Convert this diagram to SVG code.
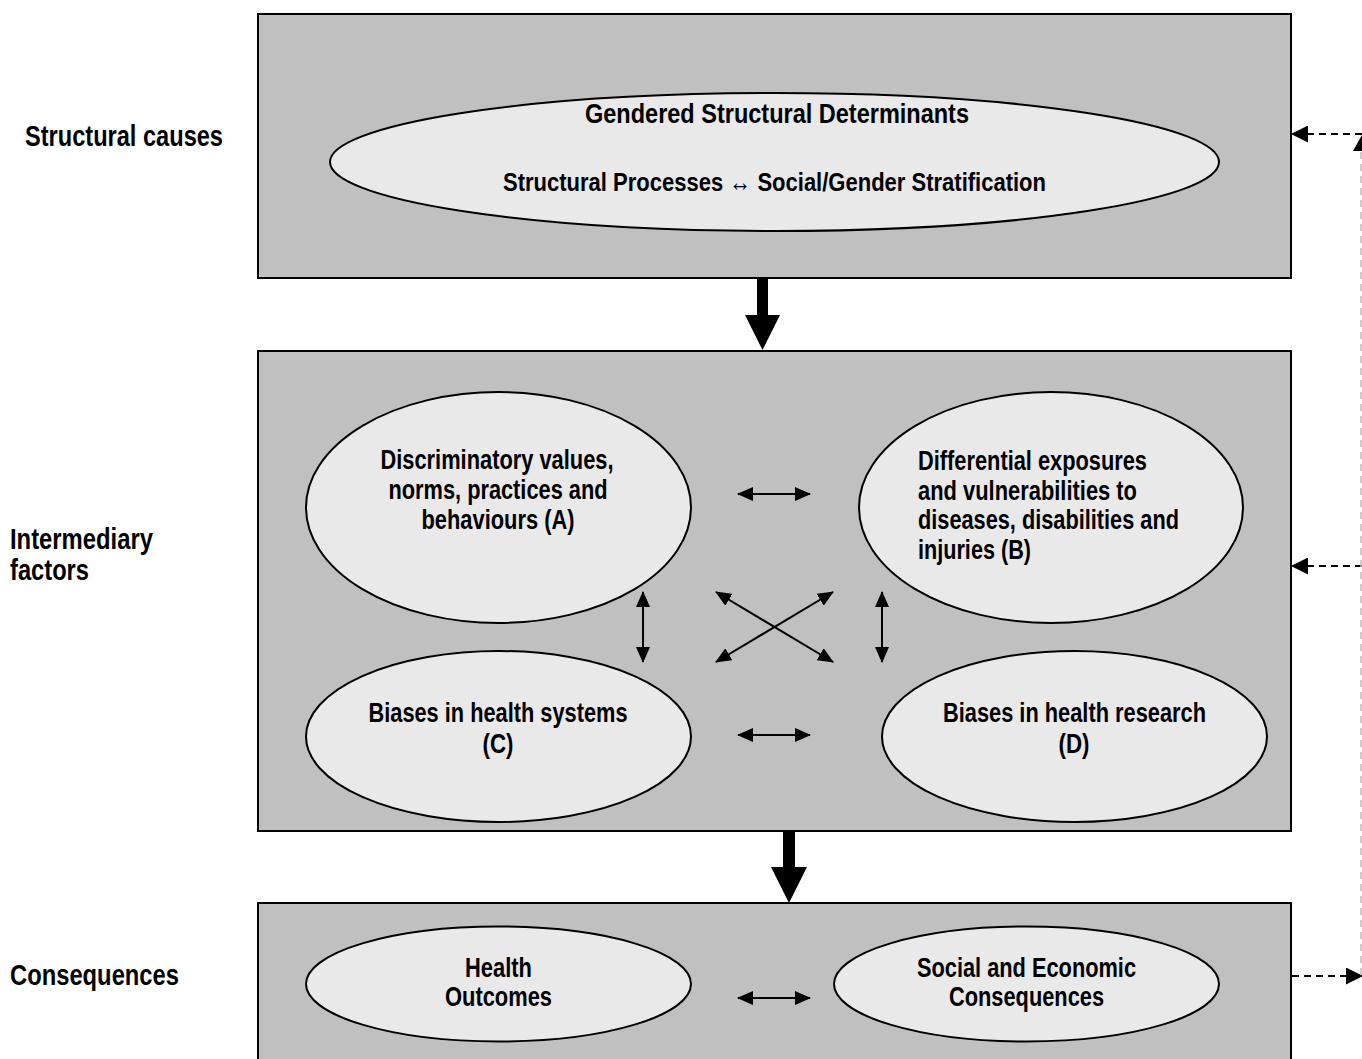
<svg xmlns="http://www.w3.org/2000/svg" width="1362" height="1059" viewBox="0 0 1362 1059">
<style>
.box{fill:#c0c0c0;stroke:#000;stroke-width:2}
.ell{fill:#e9e9e9;stroke:#000;stroke-width:2}
text{font-family:"Liberation Sans",Arial,sans-serif;font-weight:bold;fill:#000}
.lbl{font-size:29px}
.t{font-size:27px}
.c{text-anchor:middle}
.dbl{stroke:#000;stroke-width:2;fill:none;marker-start:url(#ah);marker-end:url(#ah)}
.dash{stroke:#000;stroke-width:2;fill:none;stroke-dasharray:7 5}
</style>
<defs>
<marker id="ah" markerUnits="userSpaceOnUse" markerWidth="16" markerHeight="14" refX="15" refY="7" orient="auto-start-reverse" viewBox="0 0 16 14">
<path d="M0,0 L16,7 L0,14 Z" fill="#000"/>
</marker>
<marker id="dh" markerUnits="userSpaceOnUse" markerWidth="17" markerHeight="17" refX="16" refY="8.5" orient="auto" viewBox="0 0 17 17">
<path d="M0,0 L17,8.5 L0,17 Z" fill="#000"/>
</marker>
</defs>

<g id="labels">
<text class="lbl" x="25" y="146" textLength="198" lengthAdjust="spacingAndGlyphs">Structural causes</text>
<text class="lbl" x="10" y="549" textLength="143" lengthAdjust="spacingAndGlyphs">Intermediary</text>
<text class="lbl" x="10" y="580" textLength="79" lengthAdjust="spacingAndGlyphs">factors</text>
<text class="lbl" x="10" y="985" textLength="169" lengthAdjust="spacingAndGlyphs">Consequences</text>
</g>

<g id="box-structural">
<rect class="box" x="258" y="14" width="1033" height="264"/>
</g>
<g id="node-gsd">
<ellipse class="ell" cx="774.5" cy="162" rx="444.5" ry="69"/>
<text class="c" style="font-size:28px" x="777" y="123" textLength="384" lengthAdjust="spacingAndGlyphs">Gendered Structural Determinants</text>
<text class="c" style="font-size:26px" x="774.5" y="191" textLength="543" lengthAdjust="spacingAndGlyphs">Structural Processes ↔ Social/Gender Stratification</text>
</g>

<g id="box-intermediary">
<rect class="box" x="258" y="351" width="1033" height="480"/>
</g>
<g id="node-a">
<ellipse class="ell" cx="498.5" cy="507.5" rx="192.5" ry="115.5"/>
<text class="t c" x="497" y="469" textLength="233" lengthAdjust="spacingAndGlyphs">Discriminatory values,</text>
<text class="t c" x="498" y="499" textLength="219" lengthAdjust="spacingAndGlyphs">norms, practices and</text>
<text class="t c" x="498" y="529" textLength="153" lengthAdjust="spacingAndGlyphs">behaviours (A)</text>
</g>
<g id="node-b">
<ellipse class="ell" cx="1051" cy="507.5" rx="192" ry="115.5"/>
<text class="t" x="918" y="470" textLength="229" lengthAdjust="spacingAndGlyphs">Differential exposures</text>
<text class="t" x="918" y="500" textLength="219" lengthAdjust="spacingAndGlyphs">and vulnerabilities to</text>
<text class="t" x="918" y="529" textLength="261" lengthAdjust="spacingAndGlyphs">diseases, disabilities and</text>
<text class="t" x="918" y="559" textLength="113" lengthAdjust="spacingAndGlyphs">injuries (B)</text>
</g>
<g id="node-c">
<ellipse class="ell" cx="498.5" cy="736.5" rx="192.5" ry="85.5"/>
<text class="t c" x="498" y="722" textLength="259" lengthAdjust="spacingAndGlyphs">Biases in health systems</text>
<text class="t c" x="498" y="753" textLength="31" lengthAdjust="spacingAndGlyphs">(C)</text>
</g>
<g id="node-d">
<ellipse class="ell" cx="1074.5" cy="736.5" rx="192.5" ry="85.5"/>
<text class="t c" x="1074.5" y="722" textLength="263" lengthAdjust="spacingAndGlyphs">Biases in health research</text>
<text class="t c" x="1074" y="753" textLength="31" lengthAdjust="spacingAndGlyphs">(D)</text>
</g>

<g id="box-consequences">
<rect class="box" x="258" y="903" width="1033" height="170"/>
</g>
<g id="node-health">
<ellipse class="ell" cx="498.5" cy="984" rx="192.5" ry="57.5"/>
<text class="t c" x="498.5" y="977" textLength="67" lengthAdjust="spacingAndGlyphs">Health</text>
<text class="t c" x="498.5" y="1006" textLength="107" lengthAdjust="spacingAndGlyphs">Outcomes</text>
</g>
<g id="node-social">
<ellipse class="ell" cx="1026.5" cy="984" rx="192.5" ry="57.5"/>
<text class="t c" x="1026.5" y="977" textLength="219" lengthAdjust="spacingAndGlyphs">Social and Economic</text>
<text class="t c" x="1026.5" y="1006" textLength="155" lengthAdjust="spacingAndGlyphs">Consequences</text>
</g>

<g id="connectors">
<polygon points="757,278 768,278 768,315 780,315 762.5,350 745,315 757,315" fill="#000"/>
<polygon points="783,831 795,831 795,867 807,867 789,903 771,867 783,867" fill="#000"/>
<path class="dbl" d="M738,494 H810"/>
<path class="dbl" d="M738,735 H810"/>
<path class="dbl" d="M738,998 H810"/>
<path class="dbl" d="M643,592 V662"/>
<path class="dbl" d="M882,592 V662"/>
<path class="dbl" d="M716,592 L833,662"/>
<path class="dbl" d="M833,592 L716,662"/>
<path class="dash" d="M1362,134 H1292" marker-end="url(#dh)"/>
<path class="dash" d="M1362,566 H1292" marker-end="url(#dh)"/>
<path class="dash" d="M1292,976 H1362" marker-end="url(#dh)"/>
<path d="M1361,975 V150" stroke="#bdbdbd" stroke-width="1.5" stroke-dasharray="7 5" fill="none"/>
<path d="M1353,151 L1362,135 L1371,151 Z" fill="#000"/>
</g>
</svg>
